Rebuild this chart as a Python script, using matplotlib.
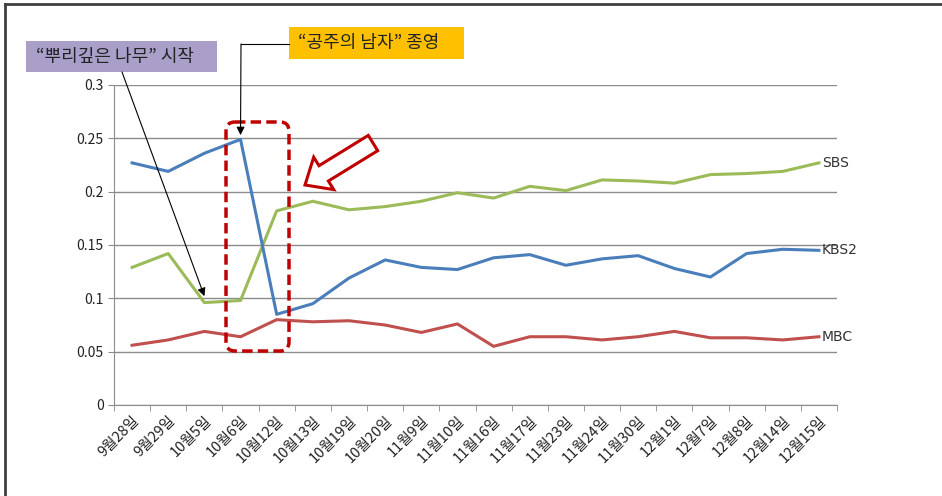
import numpy as np
import matplotlib
matplotlib.use('Agg')
import matplotlib.pyplot as plt
from matplotlib.patches import Rectangle, FancyBboxPatch, Polygon

plt.rcParams['font.family'] = ['Noto Sans CJK KR', 'DejaVu Sans']

# Data
dates = ['9월28일', '9월29일', '10월5일', '10월6일', '10월12일', '10월13일', '10월19일',
         '10월20일', '11월9일', '11월10일', '11월16일', '11월17일', '11월23일', '11월24일',
         '11월30일', '12월1일', '12월7일', '12월8일', '12월14일', '12월15일']
sbs = [0.129, 0.142, 0.096, 0.098, 0.182, 0.191, 0.183, 0.186, 0.191, 0.199,
       0.194, 0.205, 0.201, 0.211, 0.210, 0.208, 0.216, 0.217, 0.219, 0.227]
kbs2 = [0.227, 0.219, 0.236, 0.249, 0.085, 0.095, 0.119, 0.136, 0.129, 0.127,
        0.138, 0.141, 0.131, 0.137, 0.140, 0.128, 0.120, 0.142, 0.146, 0.145]
mbc = [0.056, 0.061, 0.069, 0.064, 0.080, 0.078, 0.079, 0.075, 0.068, 0.076,
       0.055, 0.064, 0.064, 0.061, 0.064, 0.069, 0.063, 0.063, 0.061, 0.064]
series = [('SBS', sbs, '#9bbb59'), ('KBS2', kbs2, '#4a7ebb'), ('MBC', mbc, '#c0504d')]

W, H = 942, 496
fig = plt.figure(figsize=(W / 100, H / 100), dpi=100)
ax = fig.add_axes([114 / W, 1 - 405 / H, (837 - 114) / W, (405 - 85) / H])

x = np.arange(len(dates))
for name, vals, col in series:
    ax.plot(x, vals, color=col, lw=2.2, zorder=3)
    ax.annotate(name, (x[-1], vals[-1]), xytext=(2, 0), textcoords='offset points',
                va='center', ha='left', fontsize=10, color='#333333',
                family=['DejaVu Sans'])

ax.set_xlim(-0.5, len(dates) - 0.5)
ax.set_ylim(0, 0.3)
ax.set_yticks(np.arange(0, 0.31, 0.05))
ax.set_yticklabels(['0', '0.05', '0.1', '0.15', '0.2', '0.25', '0.3'], fontsize=10, color='#222222')
ax.yaxis.grid(True, color='#8c8c8c', lw=1)
ax.set_axisbelow(True)
ax.set_xticks(x)
ax.set_xticklabels(dates, rotation=45, ha='right', va='top', rotation_mode='anchor',
                   fontsize=10.5, color='#222222')
ax.tick_params(axis='x', which='major', length=0, pad=6)
ax.set_xticks(np.arange(-0.5, len(dates)), minor=True)
ax.tick_params(axis='x', which='minor', length=4, color='#8c8c8c', direction='out')
ax.tick_params(axis='y', length=4, color='#8c8c8c')
for s in ['top', 'right']:
    ax.spines[s].set_visible(False)
for s in ['left', 'bottom']:
    ax.spines[s].set_color('#8c8c8c')

# overlay in pixel coordinates for annotations
ov = fig.add_axes([0, 0, 1, 1], zorder=5)
ov.set_xlim(0, W)
ov.set_ylim(H, 0)
ov.axis('off')
ov.patch.set_alpha(0)

# frame edges
ov.plot([5, W], [4, 4], color='#404040', lw=2)
ov.plot([5, 5], [4, H], color='#404040', lw=2)

# purple label box
ov.add_patch(Rectangle((26, 41), 191, 31, facecolor='#a99fc9', edgecolor='none'))
ov.text(36, 57, '“뿌리깊은 나무” 시작', fontsize=13, va='center', ha='left', color='#222222')
ov.annotate('', xy=(2, sbs[2] + 0.006), xycoords=ax.transData, xytext=(122, 72),
            textcoords=ov.transData,
            arrowprops=dict(arrowstyle='-|>', color='black', lw=0.8, mutation_scale=12,
                            shrinkA=0, shrinkB=0))

# yellow label box
ov.add_patch(Rectangle((289, 27), 175, 32, facecolor='#ffc000', edgecolor='none'))
ov.text(298, 43, '“공주의 남자” 종영', fontsize=13, va='center', ha='left', color='#222222')
ov.plot([289, 241], [44, 44], color='black', lw=0.8)
ov.annotate('', xy=(3, kbs2[3] + 0.004), xycoords=ax.transData, xytext=(241, 44),
            textcoords=ov.transData,
            arrowprops=dict(arrowstyle='-|>', color='black', lw=0.8, mutation_scale=12,
                            shrinkA=0, shrinkB=0))

# dashed rounded rectangle
ov.add_patch(FancyBboxPatch((226, 122), 63, 229, boxstyle='round,pad=0,rounding_size=9',
                            facecolor='none', edgecolor='#c00000', lw=2.5,
                            linestyle=(0, (3, 1.5))))

# hollow block arrow pointing lower-left
ov.add_patch(Polygon([(305, 185), (313.7, 157.2), (319, 165.7), (368.3, 135.4),
                      (377.7, 150.7), (328.4, 181), (333.7, 189.6)], closed=True,
                     facecolor='white', edgecolor='#c00000', lw=2.2))

fig.savefig('out.png', dpi=100)
